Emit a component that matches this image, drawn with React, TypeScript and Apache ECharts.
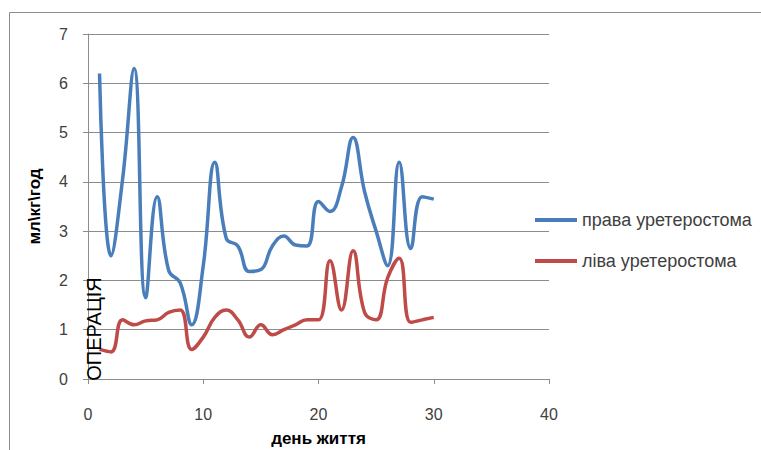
import React, { useEffect, useRef } from "react";
import * as echarts from "echarts";

const days = [1, 2, 3, 4, 5, 6, 7, 8, 9, 10, 11, 12, 13, 14, 15, 16, 17, 18, 19, 20, 21, 22, 23, 24, 25, 26, 27, 28, 29, 30];
const rightValues = [6.2, 2.5, 4.05, 6.3, 1.65, 3.7, 2.2, 1.95, 1.1, 2.3, 4.4, 2.85, 2.7, 2.18, 2.22, 2.7, 2.9, 2.72, 2.7, 3.6, 3.4, 3.9, 4.9, 3.8, 3.0, 2.3, 4.4, 2.65, 3.7, 3.65];
const leftValues = [0.6, 0.55, 1.2, 1.1, 1.18, 1.2, 1.35, 1.4, 0.6, 0.85, 1.25, 1.4, 1.2, 0.85, 1.1, 0.9, 1.0, 1.1, 1.2, 1.2, 2.4, 1.4, 2.6, 1.35, 1.2, 2.05, 2.45, 1.15, 1.2, 1.25];
const seriesNames = ["права уретеростома", "ліва уретеростома"];
const xTicks = { min: 0, max: 40, interval: 10 };
const yTicks = { min: 0, max: 7, interval: 1 };
const xAxisName = "день життя";
const yAxisName = "мл\\кг\\год";
const noteText = "ОПЕРАЦІЯ";

const FONT = "'Liberation Sans', Arial, sans-serif";

export default function App() {
  const ref = useRef<HTMLDivElement>(null);
  useEffect(() => {
    if (!ref.current) return;
    const chart = echarts.init(ref.current, null, { renderer: "svg" });
    const gridColor = "#8c8c8c";
    chart.setOption({
      animation: false,
      backgroundColor: "#ffffff",
      textStyle: { fontFamily: FONT },
      grid: { left: 88, right: 212, top: 34, bottom: 71, containLabel: false, outerBoundsMode: "none" },
      legend: {
        orient: "vertical",
        left: 530,
        top: 206,
        itemWidth: 42,
        itemHeight: 4,
        itemGap: 23,
        icon: "rect",
        textStyle: { fontSize: 18, color: "#404040", fontFamily: FONT },
        data: seriesNames,
      },
      xAxis: {
        type: "value",
        min: xTicks.min,
        max: xTicks.max,
        interval: xTicks.interval,
        name: xAxisName,
        nameLocation: "middle",
        nameGap: 51,
        nameTextStyle: { fontSize: 17, fontWeight: "bold", color: "#000", fontFamily: FONT },
        axisLine: { lineStyle: { color: gridColor, width: 1 } },
        axisTick: { show: true, length: 5, lineStyle: { color: gridColor } },
        axisLabel: { fontSize: 16, color: "#404040", margin: 27, fontFamily: FONT },
        splitLine: { show: false },
      },
      yAxis: {
        type: "value",
        min: yTicks.min,
        max: yTicks.max,
        interval: yTicks.interval,
        name: yAxisName,
        nameLocation: "middle",
        nameRotate: 90,
        nameGap: 45,
        nameTextStyle: { fontSize: 17, fontWeight: "bold", color: "#000", fontFamily: FONT },
        axisLine: { show: true, lineStyle: { color: gridColor, width: 1 } },
        axisTick: { show: true, length: 5, lineStyle: { color: gridColor } },
        axisLabel: { fontSize: 16, color: "#404040", margin: 20, fontFamily: FONT },
        splitLine: { show: true, lineStyle: { color: gridColor, width: 1 } },
      },
      series: [
        {
          name: seriesNames[0],
          type: "line",
          data: days.map((d, i) => [d, rightValues[i]]),
          smooth: 0.45,
          symbol: "none",
          lineStyle: { color: "#4a7ebb", width: 3.5 },
          itemStyle: { color: "#4a7ebb" },
        },
        {
          name: seriesNames[1],
          type: "line",
          data: days.map((d, i) => [d, leftValues[i]]),
          smooth: 0.45,
          symbol: "none",
          lineStyle: { color: "#be4b48", width: 3.5 },
          itemStyle: { color: "#be4b48" },
        },
      ],
      graphic: [
        {
          type: "line",
          shape: { x1: 9.5, y1: 12.5, x2: 800, y2: 12.5 },
          style: { stroke: "#8c8c8c", lineWidth: 1 },
          silent: true,
        },
        {
          type: "line",
          shape: { x1: 9.5, y1: 12.5, x2: 9.5, y2: 500 },
          style: { stroke: "#8c8c8c", lineWidth: 1 },
          silent: true,
        },
        {
          type: "text",
          x: 94,
          y: 329,
          rotation: Math.PI / 2,
          style: {
            text: noteText,
            fontSize: 20,
            fontFamily: FONT,
            fill: "#000",
            textAlign: "center",
            textVerticalAlign: "middle",
          },
          z: 100,
        },
      ],
    });
    return () => chart.dispose();
  }, []);
  return (
    <div
      ref={ref}
      style={{ position: "absolute", left: 0, top: 0, width: 761, height: 450, background: "#fff" }}
    />
  );
}
